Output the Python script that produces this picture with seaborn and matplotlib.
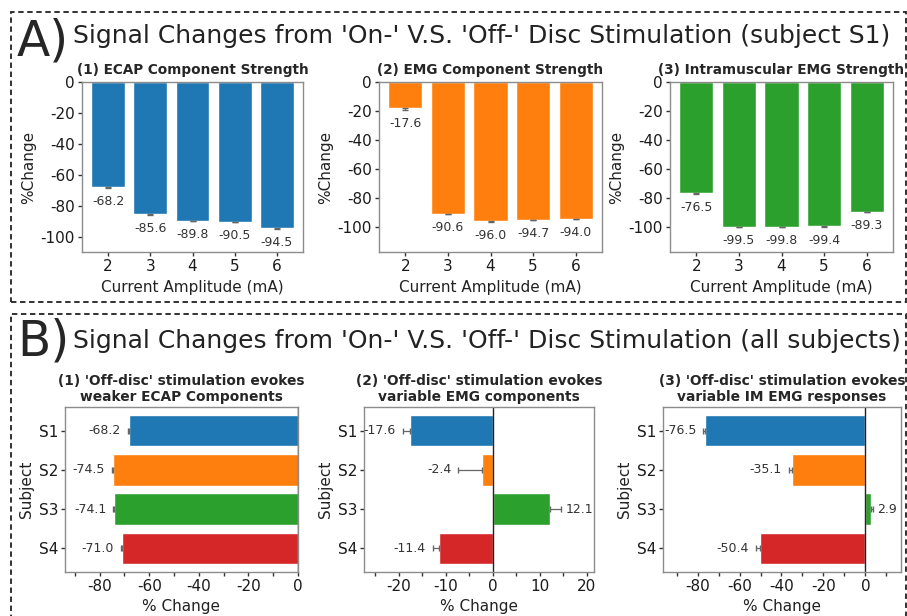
import matplotlib
matplotlib.use("Agg")
import matplotlib.pyplot as plt
from matplotlib.patches import Rectangle
from matplotlib.ticker import MultipleLocator
import numpy as np
import pandas as pd
import seaborn as sns

# ---- data ----
currents = ["2", "3", "4", "5", "6"]
ecap_s1 = [-68.2, -85.6, -89.8, -90.5, -94.5]
ecap_s1_err = [0.5, 0.4, 0.4, 0.4, 0.4]
emg_s1 = [-17.6, -90.6, -96.0, -94.7, -94.0]
emg_s1_err = [1.8, 0.4, 0.3, 0.3, 0.3]
im_s1 = [-76.5, -99.5, -99.8, -99.4, -89.3]
im_s1_err = [0.8, 0.1, 0.1, 0.1, 0.3]

subjects = ["S1", "S2", "S3", "S4"]
ecap_all = [-68.2, -74.5, -74.1, -71.0]
ecap_all_err = [0.5, 0.6, 0.5, 0.6]
emg_all = [-17.6, -2.4, 12.1, -11.4]
emg_all_err = [1.5, 5.0, 2.4, 1.4]
im_all = [-76.5, -35.1, 2.9, -50.4]
im_all_err = [0.8, 1.5, 0.8, 1.8]

bar_colors = ["#1f77b4", "#ff7f0e", "#2ca02c", "#d62728"]

sns.set_theme(style="white")
plt.rcParams["font.family"] = ["DejaVu Sans"]
plt.rcParams["axes.unicode_minus"] = False

W, H = 907, 616
fig = plt.figure(figsize=(W / 100, H / 100), dpi=100)


def box(l, t, r, b):
    return [l / W, 1 - b / H, (r - l) / W, (b - t) / H]


def style_ax(ax):
    for s in ax.spines.values():
        s.set_color("#8c8c8c")
        s.set_linewidth(1.0)
    ax.tick_params(axis="both", which="both", left=True, bottom=True,
                   length=3, width=1, color="#333333", labelsize=11,
                   labelcolor="#1a1a1a", pad=2)


# ---- panel A: subject S1 vs current amplitude ----
a_specs = [
    (box(82, 82, 303, 252), ecap_s1, ecap_s1_err, bar_colors[0], -110,
     "(1) ECAP Component Strength"),
    (box(379, 82, 602, 252), emg_s1, emg_s1_err, bar_colors[1], -117,
     "(2) EMG Component Strength"),
    (box(670, 82, 893, 252), im_s1, im_s1_err, bar_colors[2], -117,
     "(3) Intramuscular EMG Strength"),
]
for rect, vals, errs, col, ymin, title in a_specs:
    ax = fig.add_axes(rect)
    df = pd.DataFrame({"Current": currents, "Change": vals})
    sns.barplot(data=df, x="Current", y="Change", color=col, saturation=1,
                errorbar=None, width=0.8, ax=ax)
    pos = np.arange(len(vals))
    ax.errorbar(pos, vals, yerr=[errs, np.zeros(len(errs))], fmt="none",
                ecolor="#666666", elinewidth=0.9, capsize=2.5)
    for p, v, e in zip(pos, vals, errs):
        ax.annotate(f"{v:.1f}", (p, v - e), xytext=(0, -5),
                    textcoords="offset points", ha="center", va="top",
                    fontsize=9, color="#333333")
    ax.set_ylim(ymin, 0)
    ax.set_xlim(-0.62, 4.62)
    ax.set_yticks([0, -20, -40, -60, -80, -100])
    ax.set_xlabel("Current Amplitude (mA)", fontsize=11, color="#222222")
    ax.set_ylabel("%Change", fontsize=11, color="#222222", labelpad=3)
    ax.set_title(title, fontsize=9.8, fontweight="bold", pad=6)
    style_ax(ax)

# ---- panel B: all subjects ----
b_specs = [
    (box(65, 407, 298, 572), ecap_all, ecap_all_err, (-94, 0), 20, 10,
     "(1) 'Off-disc' stimulation evokes\nweaker ECAP Components"),
    (box(364, 407, 594, 572), emg_all, emg_all_err, (-27.4, 21.5), 10, 5,
     "(2) 'Off-disc' stimulation evokes\nvariable EMG components"),
    (box(663, 407, 901, 572), im_all, im_all_err, (-96.5, 17), 20, 10,
     "(3) 'Off-disc' stimulation evokes\nvariable IM EMG responses"),
]
for rect, vals, errs, xl, major, minor, title in b_specs:
    ax = fig.add_axes(rect)
    df = pd.DataFrame({"Subject": subjects, "Change": vals})
    sns.barplot(data=df, x="Change", y="Subject", hue="Subject",
                palette=bar_colors, saturation=1, errorbar=None, width=0.8,
                orient="h", legend=False, ax=ax)
    pos = np.arange(len(vals))
    lo = [e if v < 0 else 0 for v, e in zip(vals, errs)]
    hi = [e if v >= 0 else 0 for v, e in zip(vals, errs)]
    ax.errorbar(vals, pos, xerr=[lo, hi], fmt="none", ecolor="#666666",
                elinewidth=0.9, capsize=2)
    for p, v, e in zip(pos, vals, errs):
        if v < 0:
            ax.annotate(f"{v:.1f}", (v - e, p), xytext=(-5, 0),
                        textcoords="offset points", ha="right", va="center",
                        fontsize=9, color="#333333")
        else:
            ax.annotate(f"{v:.1f}", (v + e, p), xytext=(3, 0),
                        textcoords="offset points", ha="left", va="center",
                        fontsize=9, color="#333333")
    ax.axvline(0, color="#222222", lw=1)
    ax.set_xlim(*xl)
    ax.set_ylim(3.6, -0.6)
    ax.xaxis.set_major_locator(MultipleLocator(major))
    ax.xaxis.set_minor_locator(MultipleLocator(minor))
    ax.set_xlabel("% Change", fontsize=11, color="#222222")
    ax.set_ylabel("Subject", fontsize=11, color="#222222", labelpad=3)
    ax.set_title(title, fontsize=9.9, fontweight="bold", pad=4,
                 linespacing=1.25)
    style_ax(ax)

# ---- section boxes and headings ----
for (l, t, r, b) in [(11, 12, 906, 302), (11, 314, 906, 640)]:
    fig.patches.append(Rectangle((l / W, 1 - b / H), (r - l) / W, (b - t) / H,
                                 transform=fig.transFigure, fill=False,
                                 ls=(0, (3, 2)), lw=1.3, ec="#222222",
                                 clip_on=False))

fig.text(17 / W, 1 - 55 / H, "A)", fontsize=35, va="baseline", ha="left")
fig.text(73 / W, 1 - 43 / H,
         "Signal Changes from 'On-' V.S. 'Off-' Disc Stimulation (subject S1)",
         fontsize=18, va="baseline", ha="left", color="#222222")
fig.text(17 / W, 1 - 355 / H, "B)", fontsize=35, va="baseline", ha="left")
fig.text(73 / W, 1 - 348 / H,
         "Signal Changes from 'On-' V.S. 'Off-' Disc Stimulation (all subjects)",
         fontsize=18, va="baseline", ha="left", color="#222222")

fig.savefig("out.png", dpi=100)
